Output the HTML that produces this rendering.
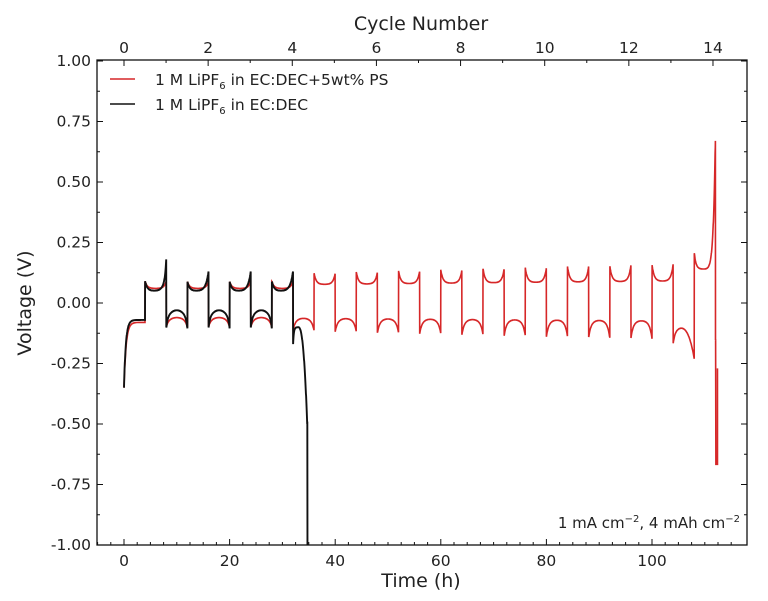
<!DOCTYPE html>
<html><head><meta charset="utf-8"><style>
body{margin:0;background:#fff;width:768px;height:596px;overflow:hidden}
text{font-family:"DejaVu Sans","Liberation Sans",sans-serif;fill:#222}
</style></head><body>
<svg id="s" width="768" height="596" xmlns="http://www.w3.org/2000/svg">
<defs><clipPath id="c"><rect x="97" y="60" width="650" height="485"/></clipPath></defs>
<g id="ticks"></g>
<path id="red" clip-path="url(#c)" fill="none" stroke="#d62728" stroke-width="1.6"/>
<path id="blk" clip-path="url(#c)" fill="none" stroke="#111" stroke-width="1.9"/>
<rect x="97" y="60" width="650" height="485" fill="none" stroke="#111" stroke-width="1.3"/>
<line x1="110" y1="79" x2="135" y2="79" stroke="#d62728" stroke-width="1.5"/>
<line x1="110" y1="104" x2="135" y2="104" stroke="#111" stroke-width="1.5"/>
<text x="155" y="85" font-size="15.5">1 M LiPF<tspan font-size="10" dy="4">6</tspan><tspan dy="-4"> in EC:DEC+5wt% PS</tspan></text>
<text x="155" y="110" font-size="15.5">1 M LiPF<tspan font-size="10" dy="4">6</tspan><tspan dy="-4"> in EC:DEC</tspan></text>
<text x="740" y="528" font-size="15" text-anchor="end">1 mA cm<tspan font-size="10" dy="-6">−2</tspan><tspan dy="6">, 4 mAh cm</tspan><tspan font-size="10" dy="-6">−2</tspan></text>
<text x="421" y="587" font-size="19" text-anchor="middle">Time (h)</text>
<text x="421" y="30" font-size="19" text-anchor="middle">Cycle Number</text>
<text transform="translate(31,303) rotate(-90)" font-size="19" text-anchor="middle">Voltage (V)</text>
</svg>
<script>
var X=function(t){return 124+t*5.28},Y=function(v){return 303-v*242};
var g=document.getElementById('ticks'),h='';
function ln(a,b,c,d){h+='<line x1="'+a+'" y1="'+b+'" x2="'+c+'" y2="'+d+'" stroke="#111" stroke-width="1"/>';}
for(var t=-5;t<=117;t+=2.5){var x=X(t);if(x<97||x>747)continue;var maj=(t%20==0);ln(x,545,x,545-(maj?6:3));
 if(maj)h+='<text x="'+x+'" y="566" font-size="15.5" text-anchor="middle">'+t+'</text>';}
for(var c=0;c<=14;c++){var x=124+c*42.07;var maj=c%2==0;ln(x,60,x,60+(maj?6:3));
 if(maj)h+='<text x="'+x+'" y="53" font-size="15.5" text-anchor="middle">'+c+'</text>';}
for(var i=-8;i<=8;i++){var v=i*0.125,y=Y(v);var maj=i%2==0;ln(97,y,97+(maj?6:3),y);ln(747,y,747-(maj?6:3),y);
 if(maj)h+='<text x="91" y="'+(y+5)+'" font-size="15.5" text-anchor="end">'+v.toFixed(2)+'</text>';}
g.innerHTML=h;
function U(u,w){return Math.exp(-u/w)+Math.exp(-(1-u)/w);}
function red(t){
 if(t<4){return -0.08-0.27*Math.exp(-t/0.4);}
 var k=Math.floor(t/8),s=t-k*8,f=k/12;
 if(s>=4){var u=(s-4)/4;
  if(k==13){return 0.14+0.07*Math.exp(-u/0.08)+0.53*Math.pow(u,10);}
  var p0=0.07+0.02*f,d=0.035+0.035*f;
  if(k<4){p0=0.06;d=0.03;}
  return p0+d*U(u,0.1);}
 var u=s/4;
 if(k==13){return -0.12-0.11*Math.pow(u,4)-0.05*Math.exp(-u/0.08)+0.02*Math.sin(Math.PI*u);}
 var n0=0.068+0.015*f,d=0.03+0.035*f;
 if(k<4){n0=0.07;d=0.03;}
 return -n0-d*U(u,0.1)+0.01*Math.sin(Math.PI*u);}
function blk(t){
 if(t<4){return -0.07-0.28*Math.exp(-t/0.35);}
 if(t<32){var k=Math.floor(t/8),s=t-k*8;
  if(s>=4){var u=(s-4)/4;return 0.05+0.04*U(u,0.1)+0.04*Math.pow(u,6)+(k==0?0.05*Math.pow(u,20):0);}
  var u=s/4;return -0.055+0.025*Math.sin(Math.PI*u)-0.05*U(u,0.07);}
 if(t<33)return -0.1-0.08*Math.exp(-(t-32)/0.15);
 var u=(t-33)/1.7;return -0.1-0.4*Math.pow(u,2.5);}
var d='';for(var t=0;t<=112.05;t+=0.02)d+=(t?'L':'M')+X(t).toFixed(1)+' '+Y(red(t)).toFixed(1);
d+='L'+X(112.1)+' '+Y(-0.67)+'M'+X(112.4)+' '+Y(-0.27)+'L'+X(112.4)+' '+Y(-0.67);
document.getElementById('red').setAttribute('d',d);
d='';for(var t=0;t<=34.7;t+=0.02)d+=(t?'L':'M')+X(t).toFixed(1)+' '+Y(blk(t)).toFixed(1);
d+='L'+X(34.72)+' '+Y(-0.49)+'L'+X(34.75)+' '+Y(-1.05);
document.getElementById('blk').setAttribute('d',d);
</script>
</body></html>
